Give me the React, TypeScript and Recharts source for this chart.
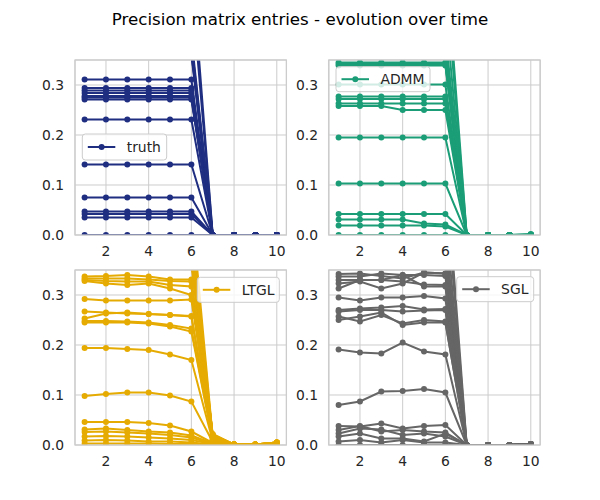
import React from 'react';
import { LineChart, Line, XAxis, YAxis, CartesianGrid } from 'recharts';

const xValues = [1, 2, 3, 4, 5, 6, 7, 8, 9, 10];
const xTicks = [2, 4, 6, 8, 10];
const yTicks = [0, 0.1, 0.2, 0.3];

const titleText = 'Precision matrix entries - evolution over time';

const truthSeries: number[][] = [
  [0.311, 0.311, 0.311, 0.311, 0.311, 0.311, 0, 0, 0, 0],
  [0.294, 0.294, 0.294, 0.294, 0.294, 0.294, 0, 0, 0, 0],
  [0.289, 0.289, 0.289, 0.289, 0.289, 0.289, 0, 0, 0, 0],
  [0.284, 0.284, 0.284, 0.284, 0.284, 0.284, 0, 0, 0, 0],
  [0.278, 0.278, 0.278, 0.278, 0.278, 0.278, 0, 0, 0, 0],
  [0.275, 0.275, 0.275, 0.275, 0.275, 0.275, 0, 0, 0, 0],
  [0.271, 0.271, 0.271, 0.271, 0.271, 0.271, 0, 0, 0, 0],
  [0.231, 0.231, 0.231, 0.231, 0.231, 0.231, 0, 0, 0, 0],
  [0.141, 0.141, 0.141, 0.141, 0.141, 0.141, 0, 0, 0, 0],
  [0.075, 0.075, 0.075, 0.075, 0.075, 0.075, 0, 0, 0, 0],
  [0.047, 0.047, 0.047, 0.047, 0.047, 0.047, 0, 0, 0, 0],
  [0.042, 0.042, 0.042, 0.042, 0.042, 0.042, 0, 0, 0, 0],
  [0.035, 0.035, 0.035, 0.035, 0.035, 0.035, 0, 0, 0, 0],
  [0, 0, 0, 0, 0, 0, 0, 0, 0, 0],
  [0.36, 0.36, 0.36, 0.36, 0.36, 0.36, 0, 0, 0, 0],
  [0.365, 0.365, 0.365, 0.365, 0.365, 0.365, 0, 0, 0, 0],
  [0.37, 0.37, 0.37, 0.37, 0.37, 0.37, 0, 0, 0, 0],
  [0.378, 0.378, 0.378, 0.378, 0.378, 0.378, 0, 0, 0, 0],
  [0.385, 0.385, 0.385, 0.385, 0.385, 0.385, 0, 0, 0, 0],
  [0.395, 0.395, 0.395, 0.395, 0.395, 0.395, 0, 0, 0, 0],
  [0.5, 0.5, 0.5, 0.5, 0.5, 0.5, 0, 0, 0, 0],
  [0.55, 0.55, 0.55, 0.55, 0.55, 0.55, 0, 0, 0, 0],
];

const admmSeries: number[][] = [
  [0.345, 0.345, 0.345, 0.345, 0.345, 0.345, 0, 0, 0, 0],
  [0.342, 0.342, 0.342, 0.342, 0.342, 0.342, 0, 0, 0, 0],
  [0.339, 0.339, 0.339, 0.339, 0.339, 0.339, 0, 0, 0, 0],
  [0.301, 0.301, 0.301, 0.301, 0.301, 0.301, 0, 0, 0, 0.001],
  [0.277, 0.277, 0.277, 0.277, 0.277, 0.277, 0, 0, 0, 0],
  [0.272, 0.272, 0.272, 0.272, 0.272, 0.272, 0, 0, 0, 0],
  [0.263, 0.263, 0.263, 0.263, 0.263, 0.263, 0, 0, 0, 0],
  [0.258, 0.258, 0.258, 0.25, 0.25, 0.25, 0, 0, 0, 0.002],
  [0.195, 0.195, 0.195, 0.195, 0.195, 0.195, 0, 0, 0, 0],
  [0.103, 0.103, 0.103, 0.103, 0.103, 0.103, 0, 0, 0, 0],
  [0.042, 0.042, 0.042, 0.042, 0.042, 0.042, 0, 0, 0, 0],
  [0.031, 0.031, 0.031, 0.031, 0.023, 0.021, 0, 0, 0, 0],
  [0.019, 0.019, 0.019, 0.019, 0.019, 0.017, 0, 0, 0, 0],
  [0, 0, 0, 0, 0, 0, 0, 0, 0, 0],
  [0.355, 0.355, 0.355, 0.355, 0.355, 0.355, 0, 0, 0, 0],
  [0.36, 0.36, 0.36, 0.36, 0.36, 0.36, 0, 0, 0, 0],
  [0.368, 0.368, 0.368, 0.368, 0.368, 0.368, 0, 0, 0, 0],
  [0.378, 0.378, 0.378, 0.378, 0.378, 0.378, 0, 0, 0, 0],
  [0.4, 0.4, 0.4, 0.4, 0.4, 0.4, 0, 0, 0, 0],
  [0.45, 0.45, 0.45, 0.45, 0.45, 0.45, 0, 0, 0, 0],
  [0.52, 0.52, 0.52, 0.52, 0.52, 0.52, 0, 0, 0, 0],
  [0.57, 0.57, 0.57, 0.57, 0.57, 0.57, 0, 0, 0, 0],
];

const ltglSeries: number[][] = [
  [0.337, 0.338, 0.34, 0.337, 0.331, 0.331, 0.02, 0.001, 0.001, 0.004],
  [0.333, 0.333, 0.333, 0.331, 0.328, 0.327, 0.018, 0.001, 0.001, 0.004],
  [0.33, 0.328, 0.327, 0.327, 0.32, 0.317, 0.016, 0.001, 0.001, 0.004],
  [0.328, 0.323, 0.32, 0.323, 0.313, 0.3, 0.015, 0.001, 0.001, 0.003],
  [0.292, 0.289, 0.289, 0.289, 0.289, 0.291, 0.012, 0.001, 0.001, 0.003],
  [0.267, 0.265, 0.263, 0.262, 0.26, 0.258, 0.012, 0.001, 0.001, 0.003],
  [0.253, 0.263, 0.265, 0.262, 0.26, 0.257, 0.01, 0.001, 0.001, 0.003],
  [0.248, 0.248, 0.247, 0.245, 0.24, 0.233, 0.01, 0.001, 0.001, 0.003],
  [0.245, 0.245, 0.245, 0.243, 0.237, 0.227, 0.009, 0.001, 0.001, 0.003],
  [0.194, 0.194, 0.192, 0.19, 0.181, 0.17, 0.008, 0.001, 0.001, 0.002],
  [0.098, 0.102, 0.105, 0.105, 0.099, 0.087, 0.006, 0.001, 0.001, 0.002],
  [0.046, 0.046, 0.046, 0.044, 0.039, 0.027, 0.004, 0.001, 0.001, 0.002],
  [0.031, 0.033, 0.03, 0.027, 0.025, 0.019, 0.003, 0, 0.001, 0.002],
  [0.026, 0.027, 0.025, 0.023, 0.02, 0.015, 0.002, 0, 0, 0.001],
  [0.017, 0.018, 0.017, 0.015, 0.013, 0.01, 0.002, 0, 0, 0.001],
  [0.009, 0.01, 0.009, 0.007, 0.007, 0.005, 0.001, 0, 0, 0.001],
  [0.003, 0.003, 0.003, 0.003, 0.002, 0.002, 0, 0, 0, 0],
  [0.36, 0.36, 0.36, 0.36, 0.36, 0.36, 0.022, 0.001, 0.001, 0.005],
  [0.37, 0.37, 0.37, 0.37, 0.37, 0.37, 0.02, 0.001, 0.001, 0.005],
  [0.38, 0.38, 0.38, 0.38, 0.38, 0.38, 0.019, 0.001, 0.001, 0.005],
  [0.39, 0.39, 0.39, 0.39, 0.39, 0.39, 0.018, 0.001, 0.001, 0.005],
  [0.41, 0.41, 0.41, 0.41, 0.41, 0.41, 0.017, 0.001, 0.001, 0.005],
  [0.44, 0.44, 0.44, 0.44, 0.44, 0.44, 0.016, 0.001, 0.001, 0.005],
  [0.48, 0.48, 0.48, 0.48, 0.48, 0.48, 0.015, 0.001, 0.001, 0.005],
];

const sglSeries: number[][] = [
  [0.342, 0.343, 0.338, 0.333, 0.345, 0.343, 0, 0, 0, 0.002],
  [0.337, 0.337, 0.343, 0.34, 0.34, 0.338, 0, 0, 0, 0.002],
  [0.33, 0.33, 0.33, 0.327, 0.321, 0.32, 0, 0, 0, 0.001],
  [0.323, 0.327, 0.313, 0.323, 0.345, 0.343, 0, 0, 0, 0.001],
  [0.313, 0.33, 0.33, 0.34, 0.317, 0.317, 0, 0, 0, 0.001],
  [0.295, 0.289, 0.295, 0.295, 0.298, 0.293, 0, 0, 0, 0],
  [0.27, 0.273, 0.275, 0.278, 0.271, 0.272, 0, 0, 0, 0],
  [0.267, 0.27, 0.27, 0.267, 0.269, 0.27, 0, 0, 0, 0],
  [0.25, 0.257, 0.265, 0.24, 0.245, 0.245, 0, 0, 0, 0],
  [0.257, 0.247, 0.26, 0.243, 0.25, 0.247, 0, 0, 0, 0],
  [0.191, 0.185, 0.183, 0.205, 0.187, 0.181, 0, 0, 0, 0],
  [0.08, 0.087, 0.107, 0.108, 0.112, 0.105, 0, 0, 0, 0],
  [0.038, 0.037, 0.043, 0.033, 0.038, 0.04, 0, 0, 0, 0],
  [0.03, 0.038, 0.027, 0.03, 0.027, 0.025, 0, 0, 0, 0],
  [0.023, 0.033, 0.031, 0.02, 0.023, 0.017, 0, 0, 0, 0],
  [0.017, 0.023, 0.013, 0.013, 0.007, 0.023, 0, 0, 0, 0],
  [0.007, 0.01, 0.005, 0.01, 0.005, 0.005, 0, 0, 0, 0],
  [0, 0, 0, 0, 0, 0, 0, 0, 0, 0],
  [0.36, 0.36, 0.36, 0.36, 0.36, 0.36, 0, 0, 0, 0.002],
  [0.37, 0.37, 0.37, 0.37, 0.37, 0.37, 0, 0, 0, 0.002],
  [0.38, 0.38, 0.38, 0.38, 0.38, 0.38, 0, 0, 0, 0.002],
  [0.4, 0.4, 0.4, 0.4, 0.4, 0.4, 0, 0, 0, 0.002],
  [0.42, 0.42, 0.42, 0.42, 0.42, 0.42, 0, 0, 0, 0.002],
  [0.46, 0.46, 0.46, 0.46, 0.46, 0.46, 0, 0, 0, 0.002],
  [0.52, 0.52, 0.52, 0.52, 0.52, 0.52, 0, 0, 0, 0.002],
  [0.57, 0.57, 0.57, 0.57, 0.57, 0.57, 0, 0, 0, 0.002],
];

const FONT = '"DejaVu Sans", sans-serif';
const TEXT = '#262626';
const GRID = '#cccccc';
const FS = 13.9;

const PLOT_W = 211.4;
const PLOT_H = 175;
const Y_AXIS_W = 50;
const X_AXIS_H = 30;
const M_TOP = 5;
const M_RIGHT = 5;

function toRows(series: number[][]) {
  return xValues.map((x, i) => {
    const row: Record<string, number> = { x };
    series.forEach((s, j) => {
      row['s' + j] = s[i];
    });
    return row;
  });
}

type PanelProps = { series: number[][]; color: string; left: number; top: number };

function Panel({ series, color, left, top }: PanelProps) {
  const data = toRows(series);
  const tickStyle = { fill: TEXT, fontSize: FS, fontFamily: FONT };
  return (
    <div style={{ position: 'absolute', left: left - Y_AXIS_W, top: top - M_TOP }}>
      <LineChart
        width={PLOT_W + Y_AXIS_W + M_RIGHT}
        height={PLOT_H + M_TOP + X_AXIS_H}
        data={data}
        margin={{ top: M_TOP, right: M_RIGHT, bottom: 0, left: 0 }}
      >
        <CartesianGrid stroke={GRID} strokeWidth={1} />
        <XAxis
          dataKey="x"
          type="number"
          domain={[0.55, 10.45]}
          ticks={xTicks}
          allowDataOverflow
          axisLine={false}
          tickLine={false}
          tickSize={0}
          tickMargin={11.5}
          height={X_AXIS_H}
          tick={tickStyle}
          interval={0}
        />
        <YAxis
          type="number"
          domain={[0, 0.35]}
          ticks={yTicks}
          allowDataOverflow
          axisLine={false}
          tickLine={false}
          tickSize={0}
          tickMargin={11}
          width={Y_AXIS_W}
          tick={tickStyle}
          interval={0}
          tickFormatter={(v: number) => v.toFixed(1)}
        />
        {series.map((_, j) => (
          <Line
            key={j}
            type="linear"
            dataKey={'s' + j}
            stroke={color}
            strokeWidth={2}
            dot={{ r: 3, fill: color, stroke: color, strokeWidth: 0 }}
            activeDot={false}
            isAnimationActive={false}
          />
        ))}
      </LineChart>
    </div>
  );
}

type LegendProps = { x: number; y: number; w: number; h: number; label: string; color: string };

function LegendBox({ x, y, w, h, label, color }: LegendProps) {
  const cy = y + h / 2;
  return (
    <g>
      <rect x={x} y={y} width={w} height={h} rx={3} ry={3} fill="#ffffff" fillOpacity={0.8} stroke={GRID} strokeWidth={1} />
      <line x1={x + 5.5} x2={x + 33} y1={cy} y2={cy} stroke={color} strokeWidth={2} />
      <circle cx={x + 19.3} cy={cy} r={3} fill={color} />
      <text x={x + 44.4} y={cy + 5.2} fontFamily={FONT} fontSize={FS} fill={TEXT}>
        {label}
      </text>
    </g>
  );
}

const panels = [
  { series: truthSeries, color: '#1f2e80', left: 75, top: 60, label: 'truth', lg: { x: 82.3, y: 134, w: 84.4, h: 26 } },
  { series: admmSeries, color: '#1b9e77', left: 328.6, top: 60, label: 'ADMM', lg: { x: 336, y: 66.7, w: 94, h: 25 } },
  { series: ltglSeries, color: '#e6ab02', left: 75, top: 270, label: 'LTGL', lg: { x: 197.3, y: 277.3, w: 82, h: 25 } },
  { series: sglSeries, color: '#666666', left: 328.6, top: 270, label: 'SGL', lg: { x: 456.7, y: 276.7, w: 77, h: 25 } },
];

export default function App() {
  return (
    <div style={{ position: 'absolute', left: 0, top: 0, width: 600, height: 500, background: '#ffffff', overflow: 'hidden' }}>
      {panels.map((p, i) => (
        <Panel key={i} series={p.series} color={p.color} left={p.left} top={p.top} />
      ))}
      <svg width={600} height={500} style={{ position: 'absolute', left: 0, top: 0, pointerEvents: 'none' }}>
        <text x={300} y={25} textAnchor="middle" fontFamily={FONT} fontSize={16.67} fill="#000000">
          {titleText}
        </text>
        {panels.map((p, i) => (
          <rect key={'b' + i} x={p.left} y={p.top} width={PLOT_W} height={PLOT_H} fill="none" stroke={GRID} strokeWidth={1.25} />
        ))}
        {panels.map((p, i) => (
          <LegendBox key={'l' + i} x={p.lg.x} y={p.lg.y} w={p.lg.w} h={p.lg.h} label={p.label} color={p.color} />
        ))}
      </svg>
    </div>
  );
}
